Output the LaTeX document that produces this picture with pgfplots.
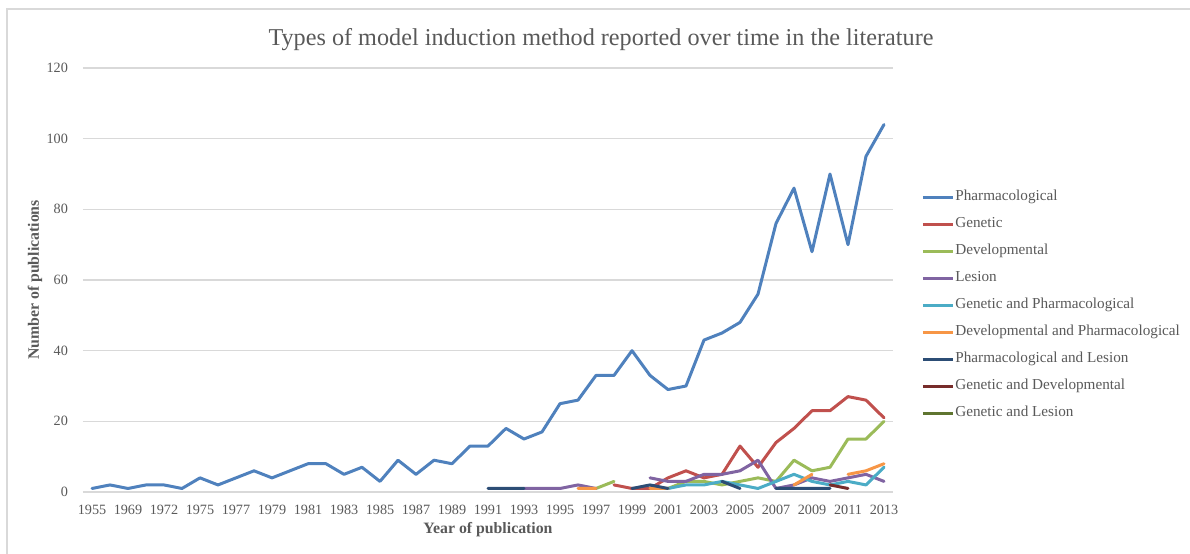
\documentclass[border=0pt]{standalone}
\usepackage{fontspec}
\setmainfont{Liberation Serif}
\usepackage{pgfplots}
\pgfplotsset{compat=1.18}
\definecolor{cPharm}{HTML}{4F81BD}
\definecolor{cGen}{HTML}{C0504D}
\definecolor{cDev}{HTML}{9BBB59}
\definecolor{cLes}{HTML}{8064A2}
\definecolor{cGP}{HTML}{4BACC6}
\definecolor{cDP}{HTML}{F79646}
\definecolor{cPL}{HTML}{2C4D75}
\definecolor{cGD}{HTML}{772C2A}
\definecolor{cGL}{HTML}{5F7530}
\definecolor{txt}{HTML}{595959}
\definecolor{gridc}{HTML}{D9D9D9}
\begin{document}
\begin{tikzpicture}
\path[use as bounding box] (-41.5pt,-30.5pt) rectangle (553.5pt,246pt);
\draw[gridc, line width=0.6pt] (-38pt,-40pt) -- (-38pt,241.5pt) -- (560pt,241.5pt);
\begin{axis}[
  at={(0,0)}, anchor=south west,
  scale only axis, width=405pt, height=212pt,
  xmin=-0.5, xmax=44.5, ymin=0, ymax=120,
  axis line style={draw=none},
  ytick={0,20,...,120},
  xtick={0,2,...,44},
  xticklabels={1955,1969,1972,1975,1977,1979,1981,1983,1985,1987,1989,1991,1993,1995,1997,1999,2001,2003,2005,2007,2009,2011,2013},
  major tick length=0pt,
  xmajorgrids=false, ymajorgrids=true,
  major grid style={gridc, line width=0.6pt},
  /pgf/number format/assume math mode=true,
  tick label style={font=\fontsize{7.1}{8}\selectfont, text=txt},
  xticklabel style={yshift=-3pt},
  yticklabel style={xshift=-4pt},
  unbounded coords=jump,
  every axis plot/.append style={line width=1.5pt, line join=round, line cap=round, mark=none},
  legend cell align=left,
  legend style={at={(1,0.441)}, anchor=west, xshift=14pt, draw=none, fill=none,
    font=\fontsize{7.6}{9}\selectfont, text=txt, inner sep=0pt, row sep=5.6pt,
    nodes={inner sep=0.5pt, text height=5.4pt, text depth=1.5pt}},
  legend image code/.code={\draw[#1, line cap=butt] (0pt,0pt) -- (15pt,0pt);},
]
% Pharmacological
\addplot[cPharm] coordinates {
(0,1)(1,2)(2,1)(3,2)(4,2)(5,1)(6,4)(7,2)(8,4)(9,6)(10,4)(11,6)(12,8)(13,8)(14,5)(15,7)(16,3)(17,9)(18,5)(19,9)(20,8)(21,13)(22,13)(23,18)(24,15)(25,17)(26,25)(27,26)(28,33)(29,33)(30,40)(31,33)(32,29)(33,30)(34,43)(35,45)(36,48)(37,56)(38,76)(39,86)(40,68)(41,90)(42,70)(43,95)(44,104)};
\addlegendentry{Pharmacological}
% Genetic
\addplot[cGen] coordinates {
(29,2)(30,1)(31,1)(32,4)(33,6)(34,4)(35,5)(36,13)(37,7)(38,14)(39,18)(40,23)(41,23)(42,27)(43,26)(44,21)};
\addlegendentry{Genetic}
% Developmental
\addplot[cDev] coordinates {
(28,1)(29,3)(30,nan)(32,1)(33,3)(34,3)(35,2)(36,3)(37,4)(38,3)(39,9)(40,6)(41,7)(42,15)(43,15)(44,20)};
\addlegendentry{Developmental}
% Lesion
\addplot[cLes] coordinates {
(24,1)(25,1)(26,1)(27,2)(28,1)(29,nan)(31,4)(32,3)(33,3)(34,5)(35,5)(36,6)(37,9)(38,1)(39,2)(40,4)(41,3)(42,4)(43,5)(44,3)};
\addlegendentry{Lesion}
% Genetic and Pharmacological
\addplot[cGP] coordinates {
(32,1)(33,2)(34,2)(35,3)(36,2)(37,1)(38,3)(39,5)(40,3)(41,2)(42,3)(43,2)(44,7)};
\addlegendentry{Genetic and Pharmacological}
% Developmental and Pharmacological
\addplot[cDP] coordinates {
(27,1)(28,1)(29,nan)(31,1)(32,1)(33,nan)(39,2)(40,5)(41,nan)(42,5)(43,6)(44,8)};
\addlegendentry{Developmental and Pharmacological}
% Pharmacological and Lesion
\addplot[cPL] coordinates {
(22,1)(23,1)(24,1)(25,nan)(30,1)(31,2)(32,1)(33,nan)(35,3)(36,1)(37,nan)(38,1)(39,1)(40,1)(41,1)};
\addlegendentry{Pharmacological and Lesion}
% Genetic and Developmental
\addplot[cGD] coordinates {(41,2)(42,1)};
\addlegendentry{Genetic and Developmental}
\addlegendimage{cGL, line width=1.5pt}
\addlegendentry{Genetic and Lesion}
\end{axis}
\node[font=\fontsize{12.1}{14}\selectfont, text=txt] at (259pt,226pt) {Types of model induction method reported over time in the literature};
\node[font=\fontsize{7.9}{9}\selectfont\bfseries, text=txt] at (202.5pt,-19pt) {Year of publication};
\node[font=\fontsize{7.9}{9}\selectfont\bfseries, text=txt, rotate=90] at (-24pt,106pt) {Number of publications};
\end{tikzpicture}
\end{document}
